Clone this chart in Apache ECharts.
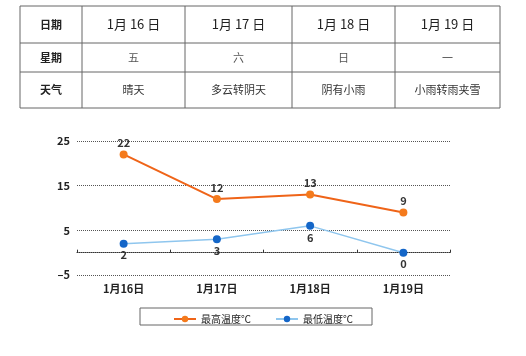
<!DOCTYPE html>
<html><head><meta charset="utf-8">
<script src="https://cdn.jsdelivr.net/npm/echarts@6/dist/echarts.min.js"></script>
<style>html,body{margin:0;padding:0;background:#fff}#c{width:526px;height:356px}</style>
</head><body><div id="c"></div>
<script>
var categories = ['1月16日', '1月17日', '1月18日', '1月19日'];
var highTemp = [22, 12, 13, 9];
var lowTemp = [2, 3, 6, 0];
var yTicks = [-5, 5, 15, 25];
var rowLabels = ['日期', '星期', '天气'];
var tableDates = ['1月 16 日', '1月 17 日', '1月 18 日', '1月 19 日'];
var weekdays = ['五', '六', '日', '一'];
var weather = ['晴天', '多云转阴天', '阴有小雨', '小雨转雨夹雪'];
var seriesNames = ['最高温度℃', '最低温度℃'];

var font = '"Noto Sans CJK SC", "Liberation Sans", sans-serif';
var colX = [20, 82, 185, 292, 395, 500];
var rowY = [6, 43, 72, 108];
var g = [];
var lineStyle = {stroke: '#666', lineWidth: 1};
colX.forEach(function (x) { g.push({type: 'line', shape: {x1: x, y1: rowY[0], x2: x, y2: rowY[3]}, style: lineStyle}); });
rowY.forEach(function (y) { g.push({type: 'line', shape: {x1: colX[0], y1: y, x2: colX[5], y2: y}, style: lineStyle}); });
var rows = [tableDates, weekdays, weather];
var rowFont = [13, 11, 11];
var rowColor = ['#222', '#555', '#333'];
for (var r = 0; r < 3; r++) {
  var cy = (rowY[r] + rowY[r + 1]) / 2;
  g.push({type: 'text', x: (colX[0] + colX[1]) / 2, y: cy, style: {text: rowLabels[r], font: 'bold 11px ' + font, fill: '#222', align: 'center', verticalAlign: 'middle'}});
  for (var c = 0; c < 4; c++) {
    g.push({type: 'text', x: (colX[c + 1] + colX[c + 2]) / 2, y: cy, style: {text: rows[r][c], font: rowFont[r] + 'px ' + font, fill: rowColor[r], align: 'center', verticalAlign: 'middle'}});
  }
}
g.push({type: 'rect', shape: {x: 140, y: 308, width: 232, height: 17}, style: {fill: 'none', stroke: '#666', lineWidth: 1}});

var chart = echarts.init(document.getElementById('c'));
chart.setOption({
  animation: false,
  graphic: g,
  grid: {left: 77, right: 76, top: 141, bottom: 81, containLabel: false},
  legend: {
    top: 309, left: 168, itemWidth: 22, itemHeight: 8, itemGap: 24,
    textStyle: {fontSize: 10, fontFamily: font, color: '#222'},
    data: seriesNames
  },
  xAxis: {
    type: 'category', data: categories, boundaryGap: true,
    axisLine: {lineStyle: {color: '#333', type: 'dotted', width: 1}},
    axisTick: {show: true, inside: true, length: 3, lineStyle: {color: '#333'}},
    axisLabel: {fontSize: 11, fontWeight: 'bold', color: '#222', fontFamily: font, margin: 8}
  },
  yAxis: {
    type: 'value', min: yTicks[0], max: yTicks[yTicks.length - 1], interval: 10,
    axisLine: {show: false}, axisTick: {show: false},
    axisLabel: {fontSize: 11, fontWeight: 'bold', color: '#222', fontFamily: font, margin: 7,
      formatter: function (v) { return String(v).replace('-', '–'); }},
    splitLine: {lineStyle: {color: '#555', type: 'dotted', width: 1}}
  },
  series: [
    {
      name: seriesNames[0], type: 'line', data: highTemp,
      symbol: 'circle', symbolSize: 8,
      lineStyle: {color: '#ef6418', width: 2},
      itemStyle: {color: '#f47a1c'},
      label: {show: true, position: 'top', distance: 2, fontSize: 11, fontWeight: 'bold', color: '#333', fontFamily: font}
    },
    {
      name: seriesNames[1], type: 'line', data: lowTemp,
      symbol: 'circle', symbolSize: 8,
      lineStyle: {color: '#8fc6ee', width: 1.5},
      itemStyle: {color: '#1466c8'},
      label: {show: true, position: 'bottom', distance: 2, fontSize: 11, fontWeight: 'bold', color: '#333', fontFamily: font}
    }
  ]
});
</script></body></html>
